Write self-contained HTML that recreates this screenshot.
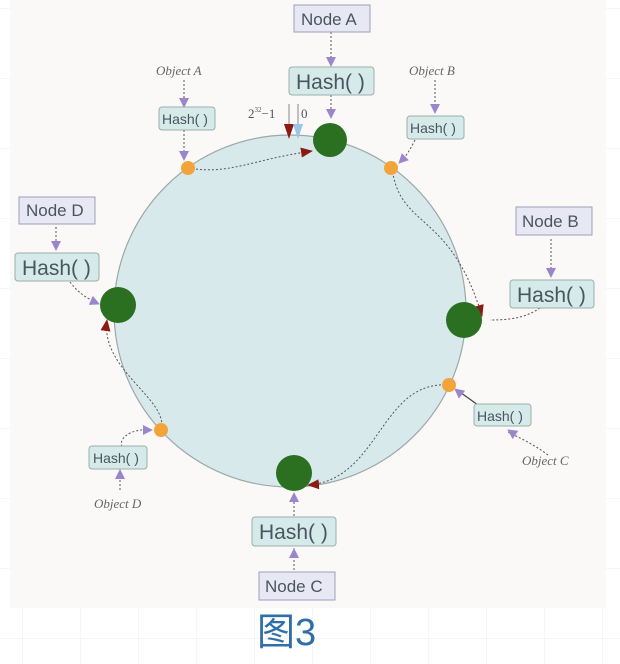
<!DOCTYPE html>
<html><head><meta charset="utf-8"><style>
body{margin:0;width:620px;height:664px;overflow:hidden;background:#fff;}
svg{display:block}
text{font-family:"Liberation Sans",sans-serif;fill:#4a5560}
.o{font-family:"Liberation Serif",serif;font-style:italic;fill:#666;font-size:13px}
</style></head><body>
<svg width="620" height="664" viewBox="0 0 620 664">
<defs>
<pattern id="g" width="58" height="70" patternUnits="userSpaceOnUse" x="22" y="8"><path d="M0 0H58M0 0V70" stroke="#e8ecf0" fill="none"/></pattern>
<marker id="p" markerWidth="10" markerHeight="10" refX="9" refY="5" orient="auto" markerUnits="userSpaceOnUse"><path d="M0 0L10 5L0 10z" fill="#9b86cc"/></marker>
<marker id="r" markerWidth="12" markerHeight="10" refX="11" refY="5" orient="auto" markerUnits="userSpaceOnUse"><path d="M0 0L12 5L0 10z" fill="#8b1a10"/></marker>
</defs>
<rect width="620" height="664" fill="url(#g)"/>
<rect x="10" y="0" width="596" height="608" fill="#fbf9f7"/>
<circle cx="290" cy="311" r="176" fill="#d8e9ec" stroke="#9aa8a8" stroke-width="1.2"/>
<g fill="none" stroke="#555" stroke-width="1" stroke-dasharray="2,2">
<path d="M188 168C230 175 250 160 312 151" marker-end="url(#r)"/>
<path d="M392 168C400 230 450 210 482 316" marker-end="url(#r)"/>
<path d="M449 385C380 380 380 480 308 485" marker-end="url(#r)"/>
<path d="M161 430C170 400 100 370 107 320" marker-end="url(#r)"/>
<path d="M331 32V66M331 95V118M184 80V107M184 130V160M435 80V113M415 140C410 150 405 158 400 162M56 227V250M70 282C80 295 90 300 98 303M551 239V277M540 308C525 318 510 320 490 320M548 455C535 445 520 438 508 432M120 490V468M124 450C115 440 130 428 150 430M294 570V548M294 520V496"/>
</g>
<g fill="none" stroke="#9b86cc" stroke-width="0">
<path d="M331 50V66" marker-end="url(#p)"/><path d="M331 100V118" marker-end="url(#p)"/>
<path d="M184 95V107" marker-end="url(#p)"/><path d="M184 145V160" marker-end="url(#p)"/>
<path d="M435 100V113" marker-end="url(#p)"/><path d="M405 157L399 163" marker-end="url(#p)"/>
<path d="M56 238V250" marker-end="url(#p)"/><path d="M90 300L99 304" marker-end="url(#p)"/>
<path d="M551 265V277" marker-end="url(#p)"/>
<path d="M520 438L508 430" marker-end="url(#p)"/>
<path d="M120 485V470" marker-end="url(#p)"/><path d="M140 430L152 430" marker-end="url(#p)"/>
<path d="M294 565V549" marker-end="url(#p)"/><path d="M294 505V493" marker-end="url(#p)"/>
</g>
<path d="M478 405L457 390" stroke="#444" stroke-width="1.2"/>
<path d="M466 398L455 389" stroke-width="0" marker-end="url(#p)"/>
<path d="M289 104V138M298 104V138" stroke="#888"/>
<path d="M284 124L294 124L289 139z" fill="#8b1a10"/><path d="M293 124L303 124L298 139z" fill="#9cc4ea"/>
<text x="248" y="118" style="font-family:'Liberation Serif',serif;font-size:13px">2<tspan font-size="7" dy="-6">32</tspan><tspan dy="6">−1</tspan></text>
<text x="301" y="118" style="font-family:'Liberation Serif',serif;font-size:13px">0</text>
<g fill="#2a7020"><circle cx="330" cy="140" r="17"/><circle cx="464" cy="320" r="18"/><circle cx="294" cy="473" r="18"/><circle cx="118" cy="305" r="18"/></g>
<g fill="#f2a43a"><circle cx="188" cy="168" r="7"/><circle cx="391" cy="168" r="7"/><circle cx="449" cy="385" r="7"/><circle cx="161" cy="430" r="7"/></g>
<g fill="#e8e8f4" stroke="#9aa0b8"><rect x="294" y="5" width="76" height="27"/><rect x="516" y="207" width="76" height="28"/><rect x="259" y="572" width="76" height="28"/><rect x="19" y="197" width="76" height="27"/></g>
<g font-size="17"><text x="301" y="25">Node A</text><text x="522" y="227">Node B</text><text x="265" y="592">Node C</text><text x="26" y="216">Node D</text></g>
<g fill="#d6eaea" stroke="#9aaeae"><rect x="289" y="67" width="85" height="28" rx="3"/><rect x="510" y="280" width="84" height="28" rx="3"/><rect x="252" y="517" width="84" height="29" rx="3"/><rect x="15" y="253" width="84" height="28" rx="3"/>
<rect x="159" y="107" width="56" height="23" rx="3"/><rect x="407" y="116" width="57" height="23" rx="3"/><rect x="474" y="404" width="57" height="22" rx="3"/><rect x="89" y="446" width="58" height="23" rx="3"/></g>
<g font-size="21"><text x="296" y="89">Hash( )</text><text x="517" y="302">Hash( )</text><text x="259" y="539">Hash( )</text><text x="22" y="275">Hash( )</text></g>
<g font-size="14"><text x="162" y="124">Hash( )</text><text x="410" y="133">Hash( )</text><text x="477" y="421">Hash( )</text><text x="93" y="463">Hash( )</text></g>
<text class="o" x="156" y="75">Object A</text><text class="o" x="409" y="75">Object B</text><text class="o" x="522" y="465">Object C</text><text class="o" x="94" y="508">Object D</text>
<text x="257" y="645" style="font-family:'Liberation Sans','Noto Sans CJK SC',sans-serif;font-size:38px;fill:#2f6fa8">图3</text>
</svg>
</body></html>
